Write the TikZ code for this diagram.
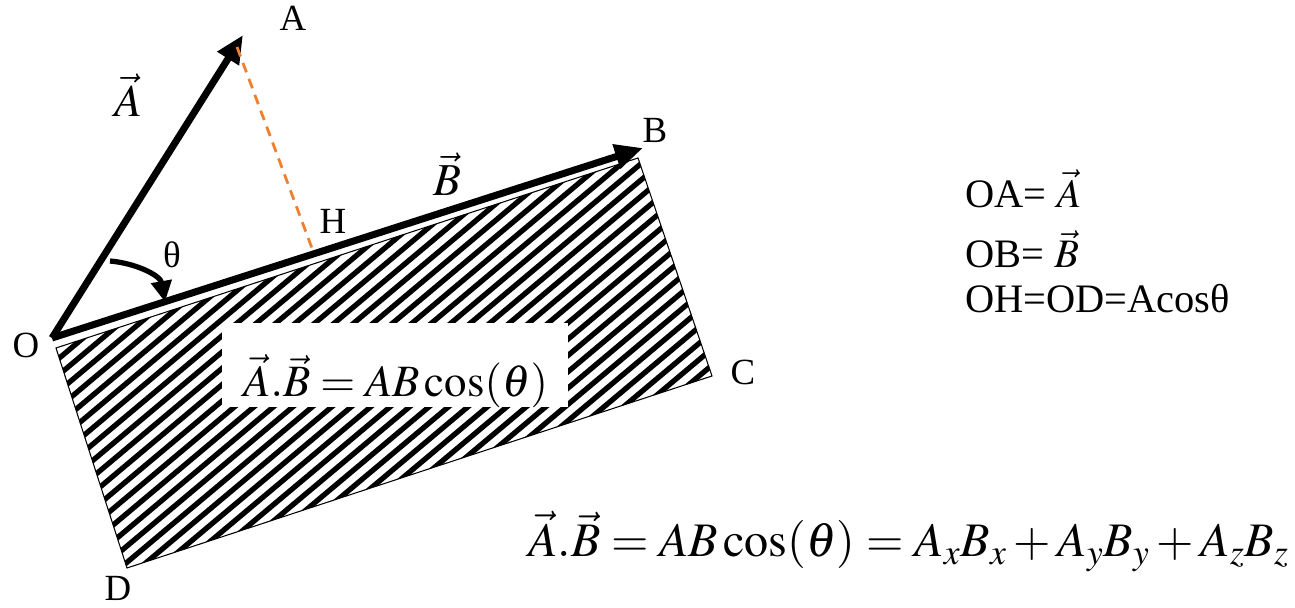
\documentclass[tikz,border=0pt]{standalone}
\usepackage{mathptmx}
\usepackage[no-math]{fontspec}
\setmainfont{Liberation Serif}
\usetikzlibrary{arrows.meta,calc}
\definecolor{dashorange}{RGB}{240,128,48}
\tikzset{
  vecline/.style = {line width=4pt, -{Triangle[length=0.56cm,width=0.48cm]}},
  angarc/.style  = {line width=3pt, -{Triangle[length=0.42cm,width=0.4cm]}},
  proj/.style    = {dashorange, line width=1.6pt, dash pattern=on 0.2cm off 0.14cm},
  hatch/.style   = {line width=3pt},
  frame/.style   = {line width=0.6pt},
  pt/.style      = {font=\fontsize{21}{24}\selectfont, inner sep=0pt},
  vlab/.style    = {font=\fontsize{26}{30}\selectfont, inner sep=0pt},
  eqn/.style     = {font=\fontsize{25.5}{30}\selectfont, inner sep=0pt, anchor=base west},
  note/.style    = {font=\fontsize{23}{27}\selectfont, inner sep=0pt, anchor=base west},
  panel/.style   = {fill=white, minimum width=6.92cm, minimum height=1.68cm, inner sep=0pt}
}

\begin{document}
\begin{tikzpicture}[x=0.02cm,y=0.02cm]
  \useasboundingbox (0,0) rectangle (1295,608);
  % points
  \coordinate (O)  at (52,270);
  \coordinate (A)  at (243,573);
  \coordinate (B)  at (643,460);
  \coordinate (H)  at (313,357);
  \coordinate (Hs) at (237,561);
  \coordinate (R1) at (56,260);
  \coordinate (R2) at (638,450);
  \coordinate (C)  at (712,232);
  \coordinate (D)  at (127,40);
  \coordinate (T1) at (110,347);
  \coordinate (T2) at (165,306);
  % hatched area
  \begin{scope}
    \clip (R1) -- (R2) -- (C) -- (D) -- cycle;
    \begin{scope}[shift={(384,245)},rotate=40]
      \foreach \k in {-32,...,32}
        \draw[hatch] (-500,{\k*12.5}) -- (500,{\k*12.5});
    \end{scope}
  \end{scope}
  \draw[frame] (R1) -- (R2) -- (C) -- (D) -- cycle;
  \node[panel] (box) at (395,243) {};
  \node[eqn] (dot) at (243,211) {$\vec{A}.\vec{B} = AB\cos(\theta)$};
  % vectors
  \draw[vecline] (O) -- (A);
  \draw[vecline] (O) -- (B);
  \draw[proj] (Hs) -- (H);
  \draw[angarc] (T1) to[out=-5,in=100] (T2);
  % labels
  \node[pt] (lA) at (293,590) {A};
  \node[pt] (lB) at (655,478) {B};
  \node[pt] (lH) at (333,387) {H};
  \node[pt] (lO) at (26,263) {O};
  \node[pt] (lC) at (743,236) {C};
  \node[pt] (lD) at (118,20) {D};
  \node[pt] (lt) at (172,353) {θ};
  \node[vlab] (vA) at (128,513) {$\vec{A}$};
  \node[vlab] (vB) at (447,434) {$\vec{B}$};
  % right side
  \node[note] (oa) at (965,400) {OA= $\vec{A}$};
  \node[note] (ob) at (965,340) {OB= $\vec{B}$};
  \node[note] (oh) at (965,295) {OH=OD=Acosθ};
  \node[eqn, font=\fontsize{27.4}{32}\selectfont] (full) at (528,51)
    {$\vec{A}.\vec{B} = AB\cos(\theta) = A_xB_x + A_yB_y + A_zB_z$};
\end{tikzpicture}
\end{document}
